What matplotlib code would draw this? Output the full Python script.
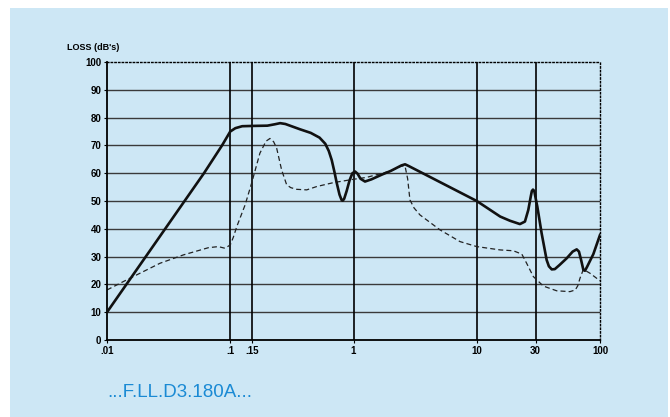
import numpy as np
import matplotlib.pyplot as plt
from matplotlib.patches import Rectangle

# solid curve: loss in dB vs frequency
solid_x = [0.01, 0.0612, 0.0858, 0.1, 0.11, 0.125, 0.15, 0.2, 0.23, 0.254, 0.28,
           0.368, 0.45, 0.53, 0.59, 0.63, 0.666, 0.70, 0.731, 0.77, 0.80, 0.817,
           0.84, 0.88, 0.93, 0.98, 1.03, 1.08, 1.14, 1.24, 1.4, 1.7,
           2.0, 2.45, 2.62, 2.8, 10, 15.5, 18.6, 22.4, 24.6, 26.2, 27.4, 28.0,
           28.6, 29.3, 30.2, 31.0, 33.6, 36.9, 38.5, 40.6, 43, 47, 53.7, 60, 64.7,
           67.5, 70.5, 73.3, 75.5, 78.5, 88.3, 100]
solid_y = [10, 60, 70, 75, 76.2, 76.9, 77, 77.1, 77.6, 78, 77.7,
           75.8, 74.5, 72.8, 70.6, 68, 64.7, 60.5, 56.5, 52.3, 50.4, 50.1,
           50.8, 53.6, 57.5, 60, 60.6, 59.8, 58, 57, 57.8, 59.5,
           60.8, 62.8, 63.2, 62.6, 50, 44.4, 42.9, 41.7, 42.6, 46.8, 51.5, 53.6,
           54.1, 53.6, 50.5, 48, 38.4, 28.8, 26.5, 25.4, 25.5, 27, 29.4, 31.8, 32.6,
           31.8, 28.5, 25.2, 24.9, 26.3, 30.9, 37.8]

# dashed curve
dash_x = [0.01, 0.0144, 0.0269, 0.0416, 0.0664, 0.08, 0.0906, 0.1, 0.106, 0.113,
          0.132, 0.149, 0.174, 0.195, 0.210, 0.225, 0.238, 0.261, 0.287, 0.31, 0.346,
          0.417, 0.503, 0.686, 0.996, 1.28, 2.0, 2.45, 2.62, 2.75, 2.87, 3.1, 3.46,
          5.04, 7.31, 10, 15.5, 19.8, 23.2, 25.4, 28.8, 34.7, 44.5, 57.1, 63, 66,
          68.8, 73.3, 83.0, 100]
dash_y = [18, 21.6, 27.6, 30.6, 33.2, 33.6, 33, 34.2, 37, 40.8,
          48.6, 56.4, 67.2, 71.5, 72.5, 71.3, 69, 61.2, 55.8, 54.8, 54.2,
          54, 55.2, 56.6, 57.8, 58.5, 60.8, 62.6, 62.5, 58, 50.4, 47.5, 45,
          39.6, 35.4, 33.6, 32.4, 32.1, 30.9, 27.6, 22.8, 19.4, 17.7, 17.4, 18,
          19.5, 22.2, 25.4, 24, 21.3]

x_ticks = [0.01, 0.1, 0.15, 1, 10, 30, 100]
x_labels = ['.01', '.1', '.15', '1', '10', '30', '100']
y_ticks = list(range(0, 101, 10))

bg = '#cde7f5'
plt.rcParams['font.family'] = ['Liberation Sans', 'DejaVu Sans']

fig = plt.figure(figsize=(6.70, 4.17), dpi=100)
fig.patch.set_facecolor('white')
fig.patches.append(Rectangle((10 / 670, 0), 1 - 12 / 670, 1 - 8 / 417,
                             transform=fig.transFigure, facecolor=bg,
                             edgecolor='none', zorder=0))

ax = fig.add_axes([107 / 670, 77 / 417, 493 / 670, 278 / 417])
ax.set_zorder(5)
ax.set_facecolor(bg)
ax.set_xscale('log')
ax.set_xlim(0.01, 100)
ax.set_ylim(0, 100)

for y in y_ticks[1:-1]:
    ax.axhline(y, color='#3a3a3a', lw=1.0, zorder=1)
for x in x_ticks[1:-1]:
    ax.axvline(x, color='black', lw=1.2, zorder=1)

ax.plot(dash_x, dash_y, color='#222222', lw=0.9, ls=(0, (4, 2.5)), zorder=2)
ax.plot(solid_x, solid_y, color='#111111', lw=1.9, zorder=3,
        solid_joinstyle='round')

for side in ['top', 'right']:
    ax.spines[side].set_linestyle(':')
    ax.spines[side].set_linewidth(1.0)
ax.spines['left'].set_linewidth(1.3)
ax.spines['bottom'].set_linewidth(1.3)

ax.set_xticks(x_ticks)
ax.set_xticklabels(x_labels)
ax.xaxis.set_minor_locator(plt.NullLocator())
ax.set_yticks(y_ticks)
ax.tick_params(axis='both', length=2, width=0.8, labelsize=7, pad=2)
for lab in ax.get_xticklabels() + ax.get_yticklabels():
    lab.set_fontweight('bold')

fig.text(67 / 670, 1 - 48 / 417, "LOSS (dB's)", fontsize=6.5, fontweight='bold',
         va='center', ha='left', zorder=6)
fig.text(107 / 670, 1 - 397 / 417, '...F.LL.D3.180A...', fontsize=13.5,
         color='#1a8ad4', va='baseline', ha='left', zorder=6)

fig.savefig('out.png', dpi=100, facecolor=fig.get_facecolor())
